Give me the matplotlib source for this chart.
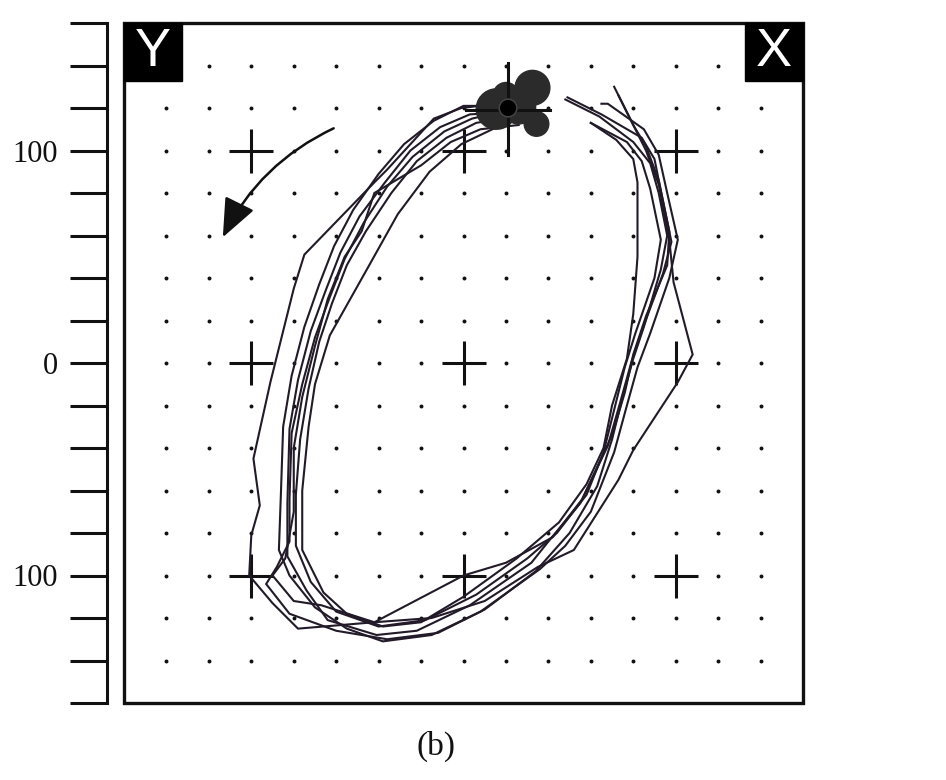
import matplotlib
matplotlib.use("Agg")
import matplotlib.pyplot as plt
from matplotlib.patches import Rectangle, Circle, Ellipse, FancyArrowPatch
import numpy as np

# ---------------- data ----------------
y_ticks = list(range(-160, 161, 20))
y_tick_labels = {100: "100", 0: "0", -100: "100"}
grid_vals = list(range(-140, 141, 20))
cross_x = [-100, 0, 100, -100, 0, 100, -100, 0, 100]
cross_y = [100, 100, 100, 0, 0, 0, -100, -100, -100]

loop_1 = [(20,118),(3,117),(-11,111),(-25,100),(-37,85),(-49,69),(-58,52),(-65,34),(-72,15),(-78,-8),
          (-82,-31),(-83,-66),(-83,-91),(-74,-107),(-64,-121),(-41,-128),(-22,-126),(3,-114),(32,-94),
          (40,-84),(55,-66),(68,-39),(74,-18),(79,0),(84,15),(94,42),(98,57),(93,81),(90,96),(84,106),
          (65,117),(49,125)]
loop_2 = [(24,116),(6,113),(-8,106),(-22,95),(-34,80),(-46,62),(-55,46),(-62,28),(-68,10),(-73,-12),
          (-77,-36),(-79,-62),(-79,-86),(-72,-103),(-60,-117),(-40,-124),(-18,-121),(6,-109),(30,-92),
          (44,-80),(58,-62),(66,-42),(71,-22),(76,-2),(81,14),(90,40),(93,58),(88,82),(84,95),(77,104),
          (60,113)]
loop_3 = [(18,121),(0,121),(-14,114),(-28,103),(-40,89),(-52,72),(-61,55),(-68,37),(-75,17),(-81,-6),
          (-85,-30),(-86,-60),(-87,-88),(-82,-100),(-70,-115),(-55,-125),(-38,-131),(-15,-128),(8,-117),
          (36,-97),(48,-86),(60,-70),(71,-42),(77,-20),(82,-2),(88,14),(97,40),(101,58),(96,80),(92,98),
          (85,110),(68,122),(65,122)]
loop_4 = [(16,122),(-1,120),(-14,115),(-36,91),(-42,85),(-75,51),(-80,35),(-91,-9),(-99,-45),(-96,-67),
          (-100,-81),(-101,-100),(-90,-113),(-78,-125),(-42,-122),(-15,-120),(10,-112),(35,-96),(52,-88),
          (73,-55),(80,-41),(101,-9),(108,4),(99,38),(97,58),(92,84),(86,100),(78,116),(71,130)]
loop_5 = [(22,114),(-1,103),(-16,90),(-31,70),(-45,45),(-63,13),(-70,-10),(-73,-30),(-76,-60),(-76,-88),
          (-66,-108),(-55,-118),(-38,-124),(-20,-122),(0,-110),(25,-92),(45,-75),(58,-57),(66,-40),
          (70,-20),(77,2),(80,23),(82,50),(82,85),(80,96),(72,105),(60,113)]
loop_6 = [(26,112),(8,110),(-6,104),(-20,93),(-42,80),(-48,62),(-56,50),(-64,30),(-70,8),(-76,-16),
          (-80,-40),(-80,-70),(-84,-92),(-90,-100),(-80,-112),(-67,-114),(-42,-122),(0,-100),(20,-94),
          (42,-82),(56,-64),(70,-34),(76,-14),(80,4),(86,22),(96,46),(97,62),(92,86),(86,102),(80,112),
          (73,126)]
loop_7 = [(21,119),(4,115),(-9,109),(-24,97),(-36,83),(-47,66),(-56,49),(-63,31),(-70,12),(-76,-10),
          (-81,-33),(-82,-64),(-82,-84),(-88,-96),(-93,-104),(-82,-118),(-60,-126),(-36,-130),(-12,-127),
          (10,-116),(34,-98),(50,-80),(63,-58),(70,-36),(75,-16),(80,2),(85,17),(93,44),(96,60),(92,80),
          (88,94),(80,104),(64,116),(48,124)]
loops = [loop_1, loop_2, loop_3, loop_4, loop_5, loop_6, loop_7]

# tool / blob near the start point
target_x, target_y = 21, 120
blob_circles = [(32.5, 129.5, 8.2), (34.4, 112.5, 5.8), (26, 120.5, 8.0), (20, 126, 6.0)]
blob_ellipse = (15.5, 119.5, 19, 19)

# direction arrow
arrow_start = (-60, 111)
arrow_end = (-114, 58)

# ---------------- figure ----------------
plt.rcParams['font.family'] = ['Liberation Serif', 'DejaVu Serif']
fig = plt.figure(figsize=(9.46, 7.80), dpi=100)
ax = fig.add_axes([124/946, 77/780, 679/946, 680/780])
ax.set_xlim(-160, 160)
ax.set_ylim(-160, 160)

ink = '#111111'
for s in ['top', 'right', 'bottom']:
    ax.spines[s].set_visible(False)
ax.spines['left'].set_position(('outward', 12.2))
ax.spines['left'].set_linewidth(2.2)
ax.spines['left'].set_color(ink)
ax.set_xticks([])
ax.set_yticks(y_ticks)
ax.set_yticklabels([y_tick_labels.get(v, "") for v in y_ticks])
ax.tick_params(axis='y', direction='out', length=26.6, width=2.2, pad=9,
               labelsize=22, colors=ink)

ax.add_patch(Rectangle((0, 0), 1, 1, transform=ax.transAxes, fill=False,
                       lw=2.4, edgecolor=ink, clip_on=False, zorder=20))

# dot grid
gx, gy = np.meshgrid(grid_vals, grid_vals)
ax.scatter(gx.ravel(), gy.ravel(), s=8, color=ink, marker='o', linewidths=0, zorder=1)

# crosses
ax.plot(cross_x, cross_y, linestyle='none', marker='+', markersize=32,
        markeredgewidth=2.2, color=ink, zorder=2)

# trajectories
for lp in loops:
    xs = [p[0] for p in lp]
    ys = [p[1] for p in lp]
    ax.plot(xs, ys, color='#221a28', lw=1.5, solid_joinstyle='miter', zorder=4)

# blob
bx, by, bw, bh = blob_ellipse
ax.add_patch(Ellipse((bx, by), bw, bh, angle=-30, color='#2b2b2b', zorder=5))
for cx, cy, r in blob_circles:
    ax.add_patch(Circle((cx, cy), r, color='#2b2b2b', zorder=5))
ax.plot([target_x - 20, target_x + 20], [target_y - 1, target_y - 1], color=ink, lw=2.2, zorder=6)
ax.plot([target_x, target_x], [target_y + 21, target_y - 22], color=ink, lw=2.2, zorder=6)
ax.add_patch(Circle((target_x, target_y), 4.2, color='black', zorder=7))
ax.add_patch(Circle((target_x, target_y), 4.2, fill=False, edgecolor='#444444', lw=1.2, zorder=7))

# arrow
arr = FancyArrowPatch(arrow_start, arrow_end, connectionstyle='arc3,rad=0.18',
                      arrowstyle='-|>,head_length=1.2,head_width=0.5',
                      mutation_scale=20, lw=1.8, color=ink, zorder=6)
ax.add_patch(arr)

# Y / X corner boxes
ax.add_patch(Rectangle((-160, 132.5), 27.5, 27.5, color='black', zorder=21, clip_on=False))
ax.add_patch(Rectangle((132.5, 132.5), 27.5, 27.5, color='black', zorder=21, clip_on=False))
ax.text(-146.25, 146.5, 'Y', color='white', fontsize=39, family='Liberation Sans',
        ha='center', va='center', zorder=22)
ax.text(146.25, 146.5, 'X', color='white', fontsize=39, family='Liberation Sans',
        ha='center', va='center', zorder=22)

fig.text(436/946, 1 - 746/780, '(b)', ha='center', va='center', fontsize=24, color=ink)

fig.savefig('out.png', dpi=100, facecolor='white')
